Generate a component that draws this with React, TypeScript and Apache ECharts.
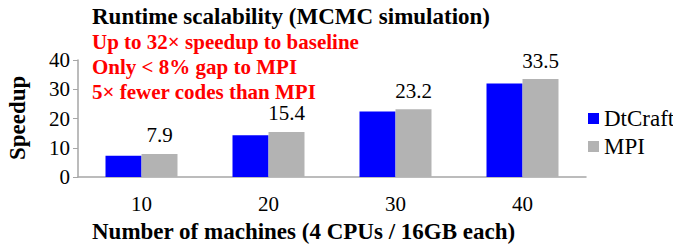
import React, { useEffect, useRef } from "react";
import * as echarts from "echarts";

const categories = ["10", "20", "30", "40"];
const dtcraft = [7.3, 14.3, 22.4, 32.0];
const mpi = [7.9, 15.4, 23.2, 33.5];
const yTicks = [0, 10, 20, 30, 40];
const titleText = "Runtime scalability (MCMC simulation)";
const notes = [
  "Up to 32\u00d7 speedup to baseline",
  "Only < 8% gap to MPI",
  "5\u00d7 fewer codes than MPI",
];
const xName = "Number of machines (4 CPUs / 16GB each)";
const yName = "Speedup";

const FONT = "'Liberation Serif', 'Times New Roman', serif";

const txt = (size: number, bold = false, color = "#000") => ({
  fontFamily: FONT,
  fontSize: size,
  fontWeight: bold ? "bold" : "normal",
  fill: color,
});

export default function App() {
  const ref = useRef<HTMLDivElement>(null);
  useEffect(() => {
    document.body.style.margin = "0";
    if (!ref.current) return;
    const chart = echarts.init(ref.current, null, { renderer: "svg" });
    chart.setOption({
      animation: false,
      backgroundColor: "#ffffff",
      textStyle: { fontFamily: FONT },
      grid: {
        left: 78,
        right: 87,
        top: 60,
        bottom: 73,
        containLabel: false,
        outerBoundsMode: "none",
      },
      legend: {
        orient: "vertical",
        left: 583,
        top: 102,
        itemWidth: 11,
        itemHeight: 11,
        itemGap: 5,
        icon: "rect",
        textStyle: { fontFamily: FONT, fontSize: 23, color: "#000" },
        data: ["DtCraft", "MPI"],
      },
      xAxis: {
        type: "category",
        data: categories,
        axisLine: { lineStyle: { color: "#a6a6a6", width: 1.5 } },
        axisTick: { show: false },
        axisLabel: { fontFamily: FONT, fontSize: 21, color: "#000", margin: 16 },
      },
      yAxis: {
        type: "value",
        min: yTicks[0],
        max: yTicks[yTicks.length - 1],
        interval: 10,
        axisLine: { show: true, lineStyle: { color: "#a6a6a6", width: 1.5 } },
        axisTick: { show: true, length: 5, lineStyle: { color: "#a6a6a6" } },
        splitLine: { show: false },
        axisLabel: { fontFamily: FONT, fontSize: 21, color: "#000", margin: 8 },
      },
      series: [
        {
          name: "DtCraft",
          type: "bar",
          data: dtcraft,
          barWidth: 36,
          barGap: "0%",
          itemStyle: { color: "#0000ff" },
        },
        {
          name: "MPI",
          type: "bar",
          data: mpi,
          barWidth: 36,
          barGap: "0%",
          itemStyle: { color: "#b3b3b3" },
          label: {
            show: true,
            position: "top",
            distance: 8,
            fontFamily: FONT,
            fontSize: 21,
            color: "#000",
          },
        },
      ],
      graphic: [
        {
          type: "text",
          left: 92,
          top: 5,
          style: { text: titleText, ...txt(23, true) },
        },
        ...notes.map((t, i) => ({
          type: "text",
          left: 92,
          top: 31 + i * 25,
          style: { text: t, ...txt(21, true, "#ff0000") },
        })),
        {
          type: "text",
          left: 92,
          top: 220,
          style: { text: xName, ...txt(23, true) },
        },
        {
          type: "text",
          x: 6,
          y: 160,
          rotation: Math.PI / 2,
          style: { text: yName, ...txt(23, true) },
        },
      ],
    });
    return () => chart.dispose();
  }, []);
  return <div ref={ref} style={{ width: 673, height: 250 }} />;
}
